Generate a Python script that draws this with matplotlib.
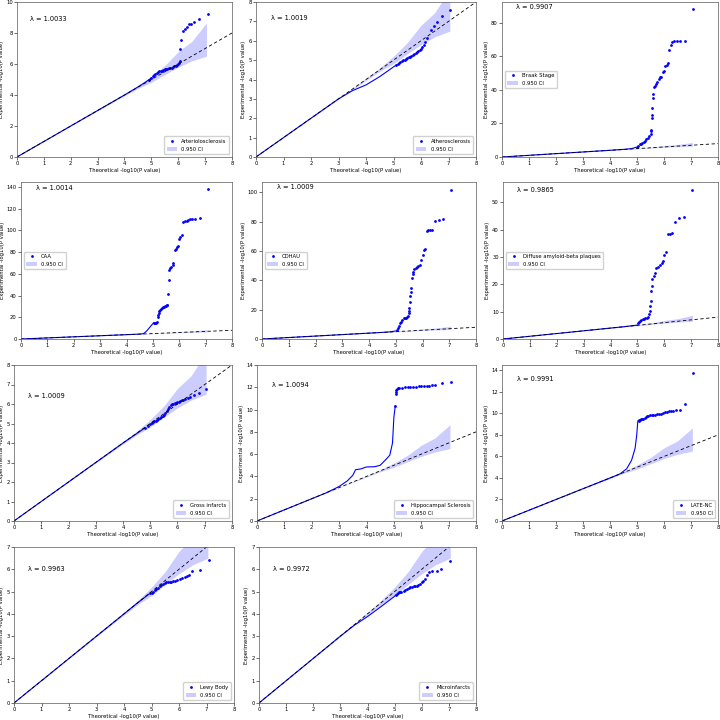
import matplotlib
matplotlib.use("Agg")
import matplotlib.pyplot as plt

# ---------------- data ----------------
ci_x = [0, 2, 3, 4, 4.5, 5.0, 5.5, 6.0, 6.5, 7.05]
ci_lo = [0, 1.99, 2.98, 3.95, 4.42, 4.82, 5.32, 5.8, 6.2, 6.5]
ci_hi = [0, 2.01, 3.02, 4.07, 4.6, 5.2, 5.9, 6.8, 7.45, 8.65]

traits = ["Arteriolosclerosis", "Atherosclerosis", "Braak Stage", "CAA", "CDHAU",
          "Diffuse amyloid-beta plaques", "Gross infarcts", "Hippocampal Sclerosis",
          "LATE-NC", "Lewy Body", "Microinfarcts"]
lambdas = ["1.0033", "1.0019", "0.9907", "1.0014", "1.0009", "0.9865",
           "1.0009", "1.0094", "0.9991", "0.9963", "0.9972"]

arterio_line_x = [0, 1, 2, 3, 4, 4.5, 4.8, 5.0]
arterio_line_y = [0, 1, 2, 3, 4, 4.52, 4.85, 5.1]
arterio_dot_x = [4.9, 5.0, 5.05, 5.1, 5.15, 5.2, 5.25, 5.3, 5.35, 5.4, 5.45, 5.5, 5.55, 5.6, 5.65, 5.7,
                 5.75, 5.8, 5.85, 5.9, 5.95, 6.0, 6.03, 6.05, 6.07, 6.1, 6.17, 6.26, 6.32, 6.39, 6.48,
                 6.6, 6.79, 7.09]
arterio_dot_y = [4.95, 5.1, 5.25, 5.32, 5.38, 5.43, 5.48, 5.52, 5.55, 5.58, 5.62, 5.65, 5.68, 5.7, 5.72,
                 5.74, 5.77, 5.8, 5.84, 5.88, 5.92, 5.97, 6.05, 6.18, 6.94, 7.58, 8.14, 8.24, 8.39, 8.56,
                 8.56, 8.74, 8.93, 9.21]

athero_line_x = [0, 1, 2, 3, 3.5, 4, 4.5, 5.0, 5.1]
athero_line_y = [0, 1, 2, 3, 3.42, 3.72, 4.15, 4.65, 4.75]
athero_dot_x = [5.1, 5.15, 5.2, 5.25, 5.3, 5.35, 5.4, 5.45, 5.5, 5.55, 5.6, 5.65, 5.7, 5.75, 5.8, 5.85,
                5.9, 5.95, 6.0, 6.05, 6.1, 6.15, 6.22, 6.36, 6.46, 6.58, 6.76, 7.04]
athero_dot_y = [4.75, 4.8, 4.85, 4.9, 4.95, 5.0, 5.03, 5.07, 5.1, 5.14, 5.18, 5.22, 5.26, 5.3, 5.35, 5.4,
                5.45, 5.52, 5.6, 5.7, 5.8, 5.92, 6.15, 6.54, 6.75, 6.97, 7.26, 7.57]

braak_line_x = [0, 1, 2, 3, 4, 4.5, 4.8, 4.95]
braak_line_y = [0, 1, 2, 3, 4, 4.55, 5.0, 5.7]
braak_dot_x = [5.0, 5.05, 5.1, 5.15, 5.2, 5.25, 5.3, 5.35, 5.4, 5.45, 5.5, 5.52, 5.53, 5.54, 5.55, 5.57,
               5.58, 5.6, 5.62, 5.65, 5.7, 5.75, 5.8, 5.85, 5.9, 5.95, 6.0, 6.05, 6.1, 6.15, 6.2, 6.25,
               6.3, 6.38, 6.48, 6.6, 6.79, 7.08]
braak_dot_y = [6.0, 6.8, 7.5, 8.0, 8.5, 9.0, 9.8, 10.5, 11.5, 12.5, 14, 15.5, 16, 23, 25, 29, 35, 37.5,
               41.5, 42.5, 43.5, 45, 46.5, 47.5, 47.8, 51, 51.5, 54.5, 55, 56, 64, 67, 68.5, 69, 69, 69,
               69.3, 88.3]

caa_line_x = [0, 1, 2, 3, 4, 4.5, 4.65, 4.77, 4.9, 5.03]
caa_line_y = [0, 1, 2, 3, 4, 4.5, 5.0, 7.5, 11.3, 15]
caa_dot_x = [5.05, 5.09, 5.12, 5.15, 5.18, 5.2, 5.22, 5.25, 5.28, 5.31, 5.34, 5.38, 5.42, 5.47, 5.5, 5.53,
             5.55, 5.57, 5.6, 5.63, 5.66, 5.7, 5.75, 5.78, 5.82, 5.86, 5.91, 5.96, 6.0, 6.04, 6.1, 6.16,
             6.22, 6.29, 6.35, 6.42, 6.5, 6.6, 6.77, 7.09]
caa_dot_y = [15, 15, 15, 15.3, 20.5, 22, 24, 25.5, 27, 28, 28.5, 29, 29.5, 30, 30.3, 31, 31.5, 41.4, 54,
             63.4, 65, 66.5, 68, 69.5, 81.8, 83, 84.9, 86, 92, 94, 95.6, 107.8, 108.5, 108.8, 109.5, 110,
             110, 110, 111.8, 137.6]

cdhau_line_x = [0, 1, 2, 3, 4, 4.5, 4.8, 5.0]
cdhau_line_y = [0, 1, 2, 3, 4, 4.5, 4.9, 5.5]
cdhau_dot_x = [5.04, 5.08, 5.12, 5.16, 5.2, 5.25, 5.29, 5.33, 5.37, 5.41, 5.45, 5.48, 5.5, 5.51, 5.53,
               5.54, 5.56, 5.58, 5.6, 5.63, 5.66, 5.7, 5.75, 5.79, 5.85, 5.91, 5.95, 6.01, 6.04, 6.1,
               6.16, 6.22, 6.28, 6.35, 6.48, 6.6, 6.76, 7.06]
cdhau_dot_y = [6, 7.5, 9, 10.7, 11.8, 13, 14, 14.3, 14.5, 14.8, 15.5, 17.5, 19, 21, 25, 29, 32, 34.6,
               41.5, 44, 46, 47.5, 48.5, 49.4, 50, 50.6, 54, 57.4, 60.8, 61.5, 73.3, 74.5, 74.5, 74.5,
               80.2, 81.3, 81.8, 101.8]

diffuse_line_x = [0, 1, 2, 3, 4, 4.5, 5.0]
diffuse_line_y = [0, 1, 2, 3, 4, 4.5, 5.1]
diffuse_dot_x = [5.02, 5.06, 5.1, 5.15, 5.2, 5.25, 5.3, 5.35, 5.4, 5.43, 5.46, 5.47, 5.49, 5.52, 5.54,
                 5.56, 5.6, 5.65, 5.71, 5.78, 5.84, 5.9, 5.94, 6.0, 6.06, 6.15, 6.21, 6.27, 6.4, 6.56,
                 6.74, 7.02]
diffuse_dot_y = [5.7, 6.2, 6.7, 6.9, 7.2, 7.5, 7.6, 7.7, 8.2, 9, 10.1, 12, 14, 17.7, 19.5, 22.1, 23, 24,
                 25.9, 26.5, 27.1, 27.8, 28.4, 30.9, 31.8, 38.5, 38.6, 38.8, 42.9, 44.4, 44.6, 54.5]

gross_line_x = [0, 1, 2, 3, 4, 4.5, 4.8]
gross_line_y = [0, 1, 2, 3, 4, 4.48, 4.77]
gross_dot_x = [4.8, 4.9, 5.0, 5.05, 5.1, 5.15, 5.2, 5.25, 5.3, 5.35, 5.4, 5.45, 5.5, 5.55, 5.6, 5.65,
               5.7, 5.75, 5.8, 5.85, 5.9, 5.95, 6.0, 6.05, 6.1, 6.15, 6.2, 6.29, 6.37, 6.47, 6.62, 6.78,
               7.06]
gross_dot_y = [4.78, 4.88, 4.98, 5.03, 5.07, 5.11, 5.15, 5.2, 5.24, 5.28, 5.32, 5.38, 5.44, 5.55, 5.65,
               5.75, 5.85, 5.95, 6.0, 6.02, 6.04, 6.06, 6.08, 6.12, 6.15, 6.18, 6.2, 6.24, 6.29, 6.34,
               6.46, 6.58, 6.75]

hippo_line_x = [0, 2.5, 2.8, 3.0, 3.3, 3.5, 3.6, 3.8, 4.0, 4.3, 4.5, 4.7, 4.85, 4.95, 5.0, 5.05]
hippo_line_y = [0, 2.5, 2.85, 3.1, 3.6, 4.1, 4.6, 4.68, 4.85, 4.87, 5.0, 5.5, 5.9, 7.0, 9.3, 10.3]
hippo_dot_x = [5.05, 5.06, 5.07, 5.08, 5.1, 5.15, 5.2, 5.3, 5.4, 5.5, 5.6, 5.7, 5.8, 5.9, 6.0, 6.1, 6.2,
               6.3, 6.4, 6.5, 6.76, 7.08]
hippo_dot_y = [10.3, 11.4, 11.6, 11.75, 11.85, 11.9, 11.95, 11.98, 12.0, 12.02, 12.03, 12.05, 12.07,
               12.08, 12.1, 12.12, 12.13, 12.15, 12.17, 12.2, 12.35, 12.5]

late_line_x = [0, 1, 2, 3, 4, 4.37, 4.62, 4.8, 4.93, 4.99, 5.03]
late_line_y = [0, 1, 2, 3, 4, 4.38, 4.86, 5.65, 6.76, 8.0, 9.3]
late_dot_x = [5.06, 5.09, 5.12, 5.16, 5.2, 5.24, 5.28, 5.32, 5.36, 5.42, 5.48, 5.55, 5.61, 5.68, 5.75,
              5.82, 5.9, 5.98, 6.05, 6.1, 6.18, 6.25, 6.35, 6.45, 6.6, 6.79, 7.07]
late_dot_y = [9.3, 9.37, 9.4, 9.45, 9.48, 9.52, 9.6, 9.7, 9.78, 9.8, 9.82, 9.83, 9.84, 9.86, 9.9, 9.94,
              9.98, 10.05, 10.12, 10.16, 10.2, 10.22, 10.25, 10.28, 10.35, 10.9, 13.8]

lewy_line_x = [0, 1, 2, 3, 4, 4.5, 4.9]
lewy_line_y = [0, 1, 2, 3, 4, 4.5, 4.88]
lewy_dot_x = [4.95, 5.0, 5.06, 5.12, 5.18, 5.24, 5.3, 5.36, 5.42, 5.48, 5.54, 5.6, 5.66, 5.72, 5.79,
              5.86, 5.93, 6.03, 6.1, 6.21, 6.3, 6.37, 6.49, 6.76, 7.08]
lewy_dot_y = [4.93, 4.95, 4.98, 5.05, 5.12, 5.18, 5.23, 5.3, 5.35, 5.38, 5.41, 5.42, 5.43, 5.44, 5.46,
              5.48, 5.5, 5.56, 5.6, 5.65, 5.7, 5.75, 5.93, 5.95, 6.43]

micro_line_x = [0, 1, 2, 3, 3.5, 3.98, 4.47, 4.96, 5.05]
micro_line_y = [0, 1, 2, 3, 3.48, 3.86, 4.3, 4.75, 4.85]
micro_dot_x = [5.05, 5.08, 5.12, 5.16, 5.2, 5.25, 5.33, 5.4, 5.47, 5.53, 5.58, 5.64, 5.7, 5.76, 5.82,
               5.88, 5.94, 6.0, 6.06, 6.13, 6.19, 6.25, 6.37, 6.56, 6.72, 7.05]
micro_dot_y = [4.85, 4.9, 4.93, 4.96, 4.98, 5.0, 5.04, 5.08, 5.12, 5.15, 5.19, 5.21, 5.23, 5.25, 5.27,
               5.3, 5.35, 5.42, 5.48, 5.56, 5.75, 5.86, 5.93, 5.93, 6.01, 6.38]

y_tops = [10, 8, 92.5, 144.5, 107, 57.5, 8, 14, 14.5, 7, 7]

# ---------------- layout / style ----------------
series = [
    (arterio_line_x, arterio_line_y, arterio_dot_x, arterio_dot_y),
    (athero_line_x, athero_line_y, athero_dot_x, athero_dot_y),
    (braak_line_x, braak_line_y, braak_dot_x, braak_dot_y),
    (caa_line_x, caa_line_y, caa_dot_x, caa_dot_y),
    (cdhau_line_x, cdhau_line_y, cdhau_dot_x, cdhau_dot_y),
    (diffuse_line_x, diffuse_line_y, diffuse_dot_x, diffuse_dot_y),
    (gross_line_x, gross_line_y, gross_dot_x, gross_dot_y),
    (hippo_line_x, hippo_line_y, hippo_dot_x, hippo_dot_y),
    (late_line_x, late_line_y, late_dot_x, late_dot_y),
    (lewy_line_x, lewy_line_y, lewy_dot_x, lewy_dot_y),
    (micro_line_x, micro_line_y, micro_dot_x, micro_dot_y),
]

# axes pixel boxes: (x0, x1, ytop, ybottom)
boxes = [
    (17, 232, 2, 157), (256, 476, 2, 157), (502, 718, 2, 157),
    (21, 232, 182, 339), (262, 476, 182, 339), (503, 718, 182, 339),
    (14, 232, 365, 521), (257, 476, 365, 521), (502, 718, 365, 521),
    (14, 234, 547, 703), (259, 476, 547, 703),
]
lam_pos = [(0.06, 0.89), (0.07, 0.90), (0.065, 0.97), (0.07, 0.96), (0.07, 0.97), (0.065, 0.95),
           (0.065, 0.80), (0.07, 0.87), (0.07, 0.91), (0.065, 0.86), (0.065, 0.86)]
leg_loc = ["lower right", "lower right", "center left", "center left", "center left", "center left",
           "lower right", "lower right", "lower right", "lower right", "lower right"]

W = H = 720
fig = plt.figure(figsize=(7.2, 7.2), dpi=100)
fs = 3.8

for i, (lx, ly, dx, dy) in enumerate(series):
    x0, x1, yt, yb = boxes[i]
    ax = fig.add_axes([x0 / W, 1 - yb / H, (x1 - x0) / W, (yb - yt) / H])
    ax.fill_between(ci_x, ci_lo, ci_hi, color="blue", alpha=0.2, lw=0, label="0.950 CI")
    ax.plot(lx, ly, color="blue", lw=0.8)
    ax.plot(dx, dy, ls="none", marker="o", ms=2.0, mew=0, color="blue", label=traits[i])
    ax.axline((0, 0), slope=1, color="black", ls=(0, (4, 3)), lw=0.6)
    ax.set_xlim(0, 8)
    ax.set_ylim(0, y_tops[i])
    ax.set_xlabel("Theoretical -log10(P value)", fontsize=fs, labelpad=1)
    ax.set_ylabel("Experimental -log10(P value)", fontsize=fs, labelpad=1.5)
    ax.tick_params(labelsize=fs, length=2, width=0.4, pad=1)
    for s in ax.spines.values():
        s.set_linewidth(0.5)
        s.set_color("0.35")
    ax.text(lam_pos[i][0], lam_pos[i][1], "λ = " + lambdas[i], transform=ax.transAxes,
            fontsize=4.8, ha="left", va="center")
    h, l = ax.get_legend_handles_labels()
    ax.legend(h[::-1], l[::-1], loc=leg_loc[i], fontsize=fs, borderpad=0.5,
              handlelength=2.0, framealpha=0.9)

fig.savefig("out.png", dpi=100)
